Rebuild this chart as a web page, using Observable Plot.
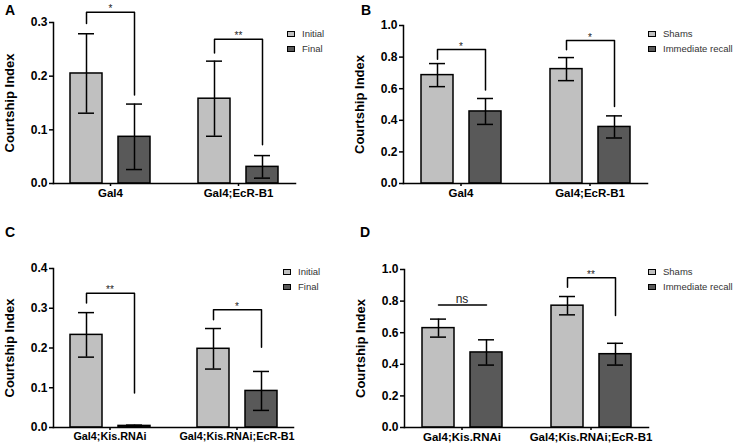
<!DOCTYPE html>
<html><head><meta charset="utf-8">
<script src="https://cdn.jsdelivr.net/npm/d3@7"></script>
<script src="https://cdn.jsdelivr.net/npm/@observablehq/plot@0.6"></script>
<style>
body{margin:0;background:#fff;font-family:"Liberation Sans",Arial,sans-serif;}
#root{position:relative;width:736px;height:446px;overflow:hidden;background:#fff;}
.panel{position:absolute;}
.letter{position:absolute;font-weight:bold;font-size:14px;line-height:14px;color:#000;}
.legend{position:absolute;font-size:9.5px;color:#333;}
.item{display:flex;align-items:center;height:15px;white-space:nowrap;}
.sw{display:inline-block;width:8px;height:6px;border:1px solid #000;box-sizing:border-box;margin-right:7px;}
</style>
</head><body>
<div id="root"></div>
<script>
// ---- data ----
const condsAC = ["Initial", "Final"];
const condsBD = ["Shams", "Immediate recall"];
const groupsAB = ["Gal4", "Gal4;EcR-B1"];
const groupsCD = ["Gal4;Kis.RNAi", "Gal4;Kis.RNAi;EcR-B1"];

const meanA = [[0.205, 0.087], [0.158, 0.031]];
const semA  = [[0.074, 0.061], [0.070, 0.021]];
const sigA = ["*", "**"];
const bracketTopA = [0.319, 0.269];
const legLA = [0.298, 0.243];
const legRA = [0.165, 0.072];
const yTicksA = [0, 0.1, 0.2, 0.3];

const meanB = [[0.686, 0.456], [0.724, 0.358]];
const semB  = [[0.073, 0.082], [0.073, 0.070]];
const sigB = ["*", "*"];
const bracketTopB = [0.848, 0.905];
const legLB = [0.786, 0.846];
const legRB = [0.592, 0.488];
const yTicksB = [0, 0.2, 0.4, 0.6, 0.8, 1.0];

const meanC = [[0.233, 0.004], [0.198, 0.092]];
const semC  = [[0.056, 0.002], [0.051, 0.049]];
const sigC = ["**", "*"];
const bracketTopC = [0.338, 0.296];
const legLC = [0.313, 0.271];
const legRC = [0.087, 0.202];
const yTicksC = [0, 0.1, 0.2, 0.3, 0.4];

const meanD = [[0.629, 0.475], [0.771, 0.464]];
const semD  = [[0.057, 0.080], [0.058, 0.069]];
const sigD = ["ns", "**"];
const bracketTopD = [0.776, 0.948];
const legLD = [0.776, 0.888];
const legRD = [0.776, 0.709];
const yTicksD = [0, 0.2, 0.4, 0.6, 0.8, 1.0];

const fills = ["#c0c0c0", "#595959"];

// ---- panels ----
const panels = [
  {id:"A", groups:groupsAB, conds:condsAC, mean:meanA, sem:semA, sig:sigA, top:bracketTopA, legL:legLA, legR:legRA, ticks:yTicksA,
   left:0, topPx:0, width:300, height:215, mt:22, mb:32, xfs:11.5, letter:[5,3], legend:[287,26]},
  {id:"B", groups:groupsAB, conds:condsBD, mean:meanB, sem:semB, sig:sigB, top:bracketTopB, legL:legLB, legR:legRB, ticks:yTicksB,
   left:350, topPx:0, width:302, height:215, mt:25, mb:32, xfs:11.5, letter:[361,3], legend:[648,26]},
  {id:"C", groups:groupsCD, conds:condsAC, mean:meanC, sem:semC, sig:sigC, top:bracketTopC, legL:legLC, legR:legRC, ticks:yTicksC,
   left:0, topPx:220, width:299, height:240, mt:48, mb:33, xfs:10.8, letter:[5,225], legend:[283,264]},
  {id:"D", groups:groupsCD, conds:condsBD, mean:meanD, sem:semD, sig:sigD, top:bracketTopD, legL:legLD, legR:legRD, ticks:yTicksD,
   left:350, topPx:220, width:303, height:240, mt:49, mb:33, xfs:11.5, letter:[360,225], legend:[648,264]}
];

const root = document.getElementById("root");
const font = '"Liberation Sans", Arial, sans-serif';

for (const p of panels) {
  const rows = [];
  p.groups.forEach((g, i) => p.conds.forEach((c, j) =>
    rows.push({group: g, cond: c, mean: p.mean[i][j], sem: p.sem[i][j]})));
  const br = [], sigRows = [];
  p.groups.forEach((g, i) => {
    br.push({group: g, cond: p.conds[0], y: p.legL[i]},
            {group: g, cond: p.conds[0], y: p.top[i]},
            {group: g, cond: p.conds[1], y: p.top[i]},
            {group: g, cond: p.conds[1], y: p.legR[i]});
    sigRows.push({group: g, y: p.top[i], label: p.sig[i]});
  });
  const yMax = p.ticks[p.ticks.length - 1];
  const chart = Plot.plot({
    width: p.width, height: p.height,
    marginLeft: 53, marginRight: 5, marginTop: p.mt, marginBottom: p.mb,
    style: {fontFamily: font, background: "transparent", overflow: "visible", color: "#000"},
    fx: {domain: p.groups, paddingInner: 0.11, paddingOuter: 0},
    x: {domain: p.conds, paddingInner: 0.34, paddingOuter: 0.345, axis: null},
    y: {domain: [0, yMax]},
    color: {domain: p.conds, range: fills},
    marks: [
      Plot.barY(rows, {fx: "group", x: "cond", y: "mean", fill: "cond", stroke: "#000", strokeWidth: 1.5}),
      Plot.ruleX(rows, {fx: "group", x: "cond", y1: d => d.mean - d.sem, y2: d => d.mean + d.sem, stroke: "#000", strokeWidth: 1.5}),
      Plot.tickY(rows, {fx: "group", x: "cond", y: d => d.mean + d.sem, insetLeft: 8, insetRight: 8, stroke: "#000", strokeWidth: 1.5}),
      Plot.tickY(rows, {fx: "group", x: "cond", y: d => d.mean - d.sem, insetLeft: 8, insetRight: 8, stroke: "#000", strokeWidth: 1.5}),
      Plot.line(br, {fx: "group", x: "cond", y: "y", z: "group", stroke: "#000", strokeWidth: 1.5}),
      Plot.text(sigRows.filter(d => d.label !== "ns"), {fx: "group", y: "y", text: "label", lineAnchor: "bottom", fontSize: 10, fill: "#222"}),
      Plot.text(sigRows.filter(d => d.label === "ns"), {fx: "group", y: "y", text: "label", lineAnchor: "bottom", fontSize: 12, dy: -1.5, fill: "#222"}),
      Plot.frame({anchor: "left", facet: "super", stroke: "#000", strokeWidth: 1.5}),
      Plot.frame({anchor: "bottom", facet: "super", stroke: "#000", strokeWidth: 1.5}),
      Plot.axisY({ticks: p.ticks, tickFormat: d3.format(".1f"), tickSize: 4, tickPadding: 2, fontWeight: "bold", fontSize: 12,
                  strokeWidth: 1.5, label: null}),
      Plot.axisY({ticks: [], label: "Courtship Index", labelAnchor: "center", labelOffset: 49, labelArrow: "none",
                  fontWeight: "bold", fontSize: 13}),
      Plot.axisFx({anchor: "bottom", tickSize: 3, tickPadding: 2, fontWeight: "bold", fontSize: p.xfs, label: null, strokeWidth: 1.5})
    ]
  });
  const wrap = document.createElement("div");
  wrap.className = "panel";
  wrap.style.left = p.left + "px";
  wrap.style.top = p.topPx + "px";
  wrap.appendChild(chart);
  root.appendChild(wrap);
}

for (const p of panels) {
  const L = document.createElement("div");
  L.className = "letter";
  L.textContent = p.id;
  L.style.left = p.letter[0] + "px";
  L.style.top = p.letter[1] + "px";
  root.appendChild(L);
  const lg = document.createElement("div");
  lg.className = "legend";
  lg.style.left = p.legend[0] + "px";
  lg.style.top = p.legend[1] + "px";
  p.conds.forEach((c, j) => {
    const it = document.createElement("div");
    it.className = "item";
    const sw = document.createElement("span");
    sw.className = "sw";
    sw.style.background = fills[j];
    it.appendChild(sw);
    it.appendChild(document.createTextNode(c));
    lg.appendChild(it);
  });
  root.appendChild(lg);
}
</script>
</body></html>
